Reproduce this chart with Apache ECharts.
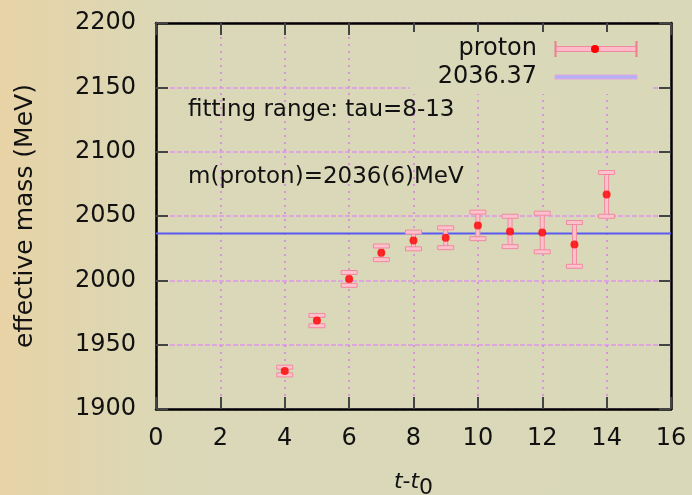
<!DOCTYPE html>
<html>
<head>
<meta charset="utf-8">
<script src="https://cdn.jsdelivr.net/npm/echarts@6/dist/echarts.min.js"></script>
<style>
html,body{margin:0;padding:0;overflow:hidden;}
body{background:linear-gradient(to right,#e8d3a6 0px,#dfd6b1 100px,#dad8b8 200px,#d9d8b9 692px);}
#chart{width:692px;height:495px;}
</style>
</head>
<body>
<div id="chart"></div>
<script>
// ---- data ----
const tValues = [4, 5, 6, 7, 8, 9, 10, 11, 12, 13, 14];
const massValues = [1929.5, 1968.7, 2001.1, 2021.4, 2031.0, 2033.1, 2042.7, 2038.0, 2037.2, 2027.9, 2066.8];
const massErrors = [3, 4, 5, 5.3, 6.5, 7.7, 10.3, 11.8, 15, 17, 17];
const fitValue = 2036.37;
const fitXRange = [0, 16];
const xTickRange = [0, 16, 2];
const yTickRange = [1900, 2200, 50];
const annotations = ['fitting range: tau=8-13', 'm(proton)=2036(6)MeV'];
const seriesNames = ['proton', '2036.37'];

const FONT = 'DejaVu Sans';
const svgIcon = s => 'image://data:image/svg+xml;charset=utf-8,' + encodeURIComponent(s);
const protonIcon = svgIcon('<svg xmlns="http://www.w3.org/2000/svg" width="84" height="16" viewBox="0 0 84 16">' +
  '<rect x="1.5" y="5.5" width="81" height="5" fill="#ffbcc8" stroke="#f08aa0" stroke-width="1"/>' +
  '<line x1="1.5" y1="0" x2="1.5" y2="16" stroke="#f07a92" stroke-width="2"/>' +
  '<line x1="82.5" y1="0" x2="82.5" y2="16" stroke="#f07a92" stroke-width="2"/>' +
  '<circle cx="41" cy="8" r="4" fill="#ff0000"/></svg>');
const lineIcon = svgIcon('<svg xmlns="http://www.w3.org/2000/svg" width="84" height="16" viewBox="0 0 84 16">' +
  '<rect x="1" y="6" width="82" height="4" fill="#b4b0f8" stroke="#e4a8dc" stroke-width="1"/></svg>');

const errData = tValues.map((t, i) => [t, massValues[i], massErrors[i]]);
const ptData = tValues.map((t, i) => [t, massValues[i]]);
const fitData = fitXRange.map(x => [x, fitValue]);

const chart = echarts.init(document.getElementById('chart'), null, {renderer: 'canvas'});

const axisCommon = {
  type: 'value',
  axisLine: {show: true, onZero: false, lineStyle: {color: '#000', width: 2.5}},
  axisTick: {show: true, inside: true, length: 12, lineStyle: {color: '#444', width: 2}},
};

chart.setOption({
  backgroundColor: 'transparent',
  animation: false,
  textStyle: {fontFamily: FONT},
  grid: {left: 156, right: 21, top: 23, bottom: 86, containLabel: false, outerBoundsMode: 'none'},
  legend: {
    orient: 'vertical',
    align: 'right',
    right: 40,
    top: 32,
    padding: [5, 14, 5, 28],
    backgroundColor: '#d9d8b9',
    itemWidth: 84,
    itemHeight: 16,
    itemGap: 4,
    selectedMode: false,
    textStyle: {fontFamily: FONT, fontSize: 24, color: '#111', lineHeight: 24, padding: [0, 12, 0, 0]},
    data: [{name: seriesNames[0], icon: protonIcon}, {name: seriesNames[1], icon: lineIcon}]
  },
  xAxis: [
    Object.assign({}, axisCommon, {
      position: 'bottom',
      min: xTickRange[0], max: xTickRange[1], interval: xTickRange[2],
      axisLabel: {fontFamily: FONT, fontSize: 24, color: '#111', margin: 18},
      splitLine: {show: true, lineStyle: {color: '#d896d8', width: 2, type: [2, 5]}},
      name: '{i|t}{n|-}{i|t}{s|0}',
      nameLocation: 'middle',
      nameGap: 62,
      nameTextStyle: {
        fontFamily: FONT, fontSize: 22, color: '#111',
        rich: {
          i: {fontFamily: FONT, fontStyle: 'italic', fontSize: 22, color: '#111', verticalAlign: 'top', lineHeight: 22},
          n: {fontFamily: FONT, fontSize: 22, color: '#111', verticalAlign: 'top', lineHeight: 22},
          s: {fontFamily: FONT, fontSize: 22, color: '#111', verticalAlign: 'bottom', lineHeight: 28}
        }
      }
    }),
    Object.assign({}, axisCommon, {
      position: 'top',
      min: xTickRange[0], max: xTickRange[1], interval: xTickRange[2],
      axisLabel: {show: false},
      splitLine: {show: false}
    })
  ],
  yAxis: [
    Object.assign({}, axisCommon, {
      position: 'left',
      min: yTickRange[0], max: yTickRange[1], interval: yTickRange[2],
      axisLabel: {fontFamily: FONT, fontSize: 24, color: '#111', margin: 20, formatter: v => String(v)},
      splitLine: {show: true, lineStyle: {color: '#dea6de', width: 2, type: [5, 2]}},
      name: 'effective mass (MeV)',
      nameLocation: 'middle',
      nameGap: 118,
      nameTextStyle: {fontFamily: FONT, fontSize: 25, color: '#111'}
    }),
    Object.assign({}, axisCommon, {
      position: 'right',
      min: yTickRange[0], max: yTickRange[1], interval: yTickRange[2],
      axisLabel: {show: false},
      splitLine: {show: false}
    })
  ],
  graphic: [
    {type: 'text', left: 188, top: 99, z: 10, style: {text: annotations[0], font: '23px "DejaVu Sans"', fill: '#111'}},
    {type: 'text', left: 188, top: 166, z: 10, style: {text: annotations[1], font: '23px "DejaVu Sans"', fill: '#111'}}
  ],
  series: [
    {
      name: seriesNames[1],
      type: 'line',
      data: fitData,
      showSymbol: false,
      symbol: 'none',
      lineStyle: {color: '#5a5af0', width: 2},
      itemStyle: {color: '#b4b0f8'},
      z: 2
    },
    {
      name: seriesNames[0],
      type: 'custom',
      data: errData,
      encode: {x: 0, y: 1},
      itemStyle: {color: '#ffbcc8'},
      z: 3,
      renderItem: function (params, api) {
        const x = api.value(0), y = api.value(1), e = api.value(2);
        const top = api.coord([x, y + e]);
        const bot = api.coord([x, y - e]);
        const st = {fill: '#ffc2cc', stroke: '#ef8aa0', lineWidth: 1};
        const cw = 8, ch = 2;
        return {
          type: 'group',
          children: [
            {type: 'rect', shape: {x: top[0] - 2, y: top[1], width: 4, height: bot[1] - top[1]}, style: st},
            {type: 'rect', shape: {x: top[0] - cw, y: top[1] - ch, width: 2 * cw, height: 2 * ch}, style: st},
            {type: 'rect', shape: {x: bot[0] - cw, y: bot[1] - ch, width: 2 * cw, height: 2 * ch}, style: st}
          ]
        };
      }
    },
    {
      name: seriesNames[0],
      type: 'scatter',
      data: ptData,
      symbol: 'circle',
      symbolSize: 8,
      itemStyle: {color: '#ff0000'},
      z: 4
    }
  ]
});
</script>
</body>
</html>
